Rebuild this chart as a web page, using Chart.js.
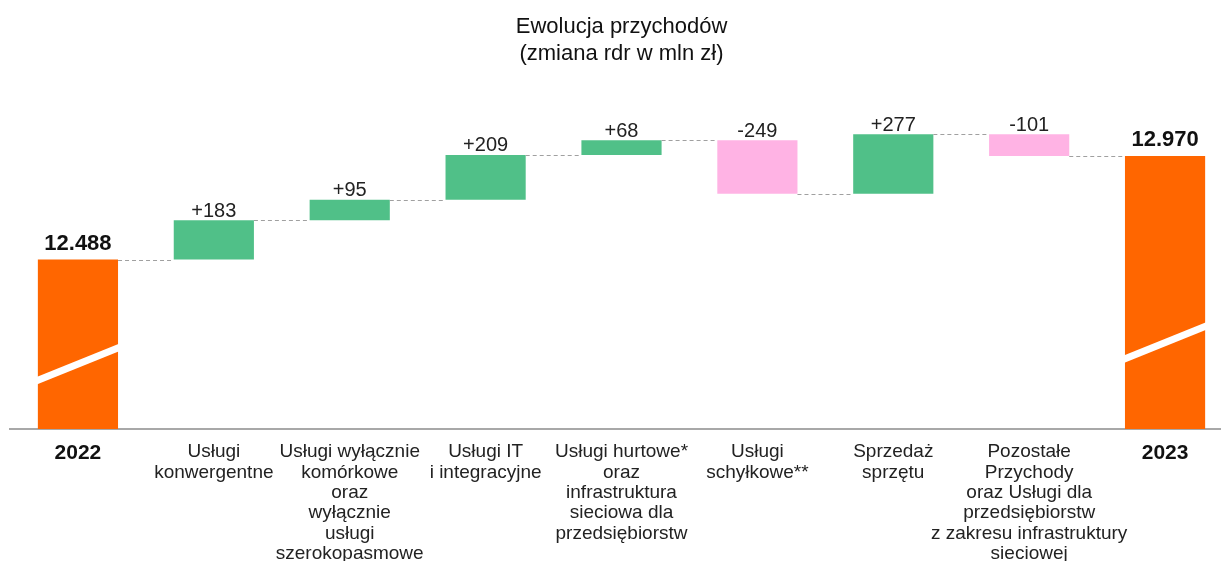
<!DOCTYPE html>
<html>
<head>
<meta charset="utf-8">
<script src="https://cdn.jsdelivr.net/npm/chart.js@4"></script>
<style>
  html, body { margin: 0; padding: 0; background: #fff; overflow: hidden; }
  #wrap { width: 1240px; height: 561px; }
</style>
</head>
<body>
<div id="wrap"><canvas id="myChart"></canvas></div>
<script>
const categories = [
  ["2022"],
  ["Usługi", "konwergentne"],
  ["Usługi wyłącznie", "komórkowe", "oraz", "wyłącznie", "usługi", "szerokopasmowe"],
  ["Usługi IT", "i integracyjne"],
  ["Usługi hurtowe*", "oraz", "infrastruktura", "sieciowa dla", "przedsiębiorstw"],
  ["Usługi", "schyłkowe**"],
  ["Sprzedaż", "sprzętu"],
  ["Pozostałe", "Przychody", "oraz Usługi dla", "przedsiębiorstw", "z zakresu infrastruktury", "sieciowej"],
  ["2023"]
]
const startValue = 12488
const changes = [183, 95, 209, 68, -249, 277, -101]
const endValue = 12970
const valueLabels = ["12.488", "+183", "+95", "+209", "+68", "-249", "+277", "-101", "12.970"]

const axisMin = 11700
const axisMax = 13250
const fontFamily = "'Liberation Sans', Arial, sans-serif"

// running totals -> floating bars
let totals = [startValue]
let bars = [[axisMin, startValue]]
let running = startValue
changes.forEach((c) => {
  bars.push([running, running + c])
  running += c
  totals.push(running)
})
bars.push([axisMin, endValue])
totals.push(endValue)

const colors = bars.map((b, i) => {
  if (i === 0 || i === bars.length - 1) return "#ff6600"
  return changes[i - 1] >= 0 ? "#50c088" : "#ffb3e4"
})

const waterfallPlugin = {
  id: "waterfall",
  afterDatasetsDraw(chart) {
    const c = chart.ctx
    const y = chart.scales.y
    const meta = chart.getDatasetMeta(0)
    const els = meta.data

    // dashed connectors
    c.save()
    c.strokeStyle = "#a0a0a0"
    c.lineWidth = 1
    c.setLineDash([4, 3])
    for (let i = 0; i < els.length - 1; i++) {
      const a = els[i], b = els[i + 1]
      const py = Math.round(y.getPixelForValue(totals[i])) + 0.5
      c.beginPath()
      c.moveTo(a.x + a.width / 2, py)
      c.lineTo(b.x - b.width / 2, py)
      c.stroke()
    }
    c.restore()

    // break marks on the total bars
    const breaks = { 0: 12000, 8: 12100 }
    c.save()
    c.strokeStyle = "#ffffff"
    c.lineWidth = 7
    Object.keys(breaks).forEach((k) => {
      const el = els[k]
      const py = y.getPixelForValue(breaks[k])
      c.beginPath()
      c.moveTo(el.x - el.width / 2 - 8, py + 19)
      c.lineTo(el.x + el.width / 2 + 6, py - 19)
      c.stroke()
    })
    c.restore()

    // value labels
    c.save()
    c.textAlign = "center"
    c.textBaseline = "bottom"
    els.forEach((el, i) => {
      const top = Math.min(el.y, el.base)
      const isTotal = i === 0 || i === els.length - 1
      c.font = isTotal ? "bold 22px " + fontFamily : "20px " + fontFamily
      c.fillStyle = isTotal ? "#111" : "#222"
      c.fillText(valueLabels[i], el.x, isTotal ? top - 5 : top + 1)
    })
    c.restore()
  }
}

new Chart(document.querySelector("#myChart"), {
  type: "bar",
  data: {
    labels: categories,
    datasets: [{
      data: bars,
      backgroundColor: colors,
      borderWidth: 0,
      barPercentage: 0.59,
      categoryPercentage: 1
    }]
  },
  options: {
    responsive: true,
    maintainAspectRatio: false,
    animation: false,
    layout: { padding: { left: 10, right: 7, top: 0, bottom: -8 } },
    plugins: {
      legend: { display: false },
      tooltip: { enabled: false },
      title: {
        display: true,
        text: ["Ewolucja przychodów", "(zmiana rdr w mln zł)"],
        color: "#111",
        font: { family: fontFamily, size: 22, weight: "normal", lineHeight: 1.2 },
        padding: { top: 14, bottom: 29 }
      }
    },
    scales: {
      x: {
        grid: { display: false },
        border: { display: true, color: "#a8a8a8", width: 2 },
        ticks: {
          autoSkip: false,
          maxRotation: 0,
          minRotation: 0,
          padding: 5,
          color: (ctx) => (ctx.index === 0 || ctx.index === 8) ? "#111" : "#222",
          font: (ctx) => (ctx.index === 0 || ctx.index === 8)
            ? { family: fontFamily, size: 21, weight: "bold", lineHeight: 1.07 }
            : { family: fontFamily, size: 19, weight: "normal", lineHeight: 1.07 }
        }
      },
      y: {
        display: false,
        min: axisMin,
        max: axisMax
      }
    }
  },
  plugins: [waterfallPlugin]
})
</script>
</body>
</html>
